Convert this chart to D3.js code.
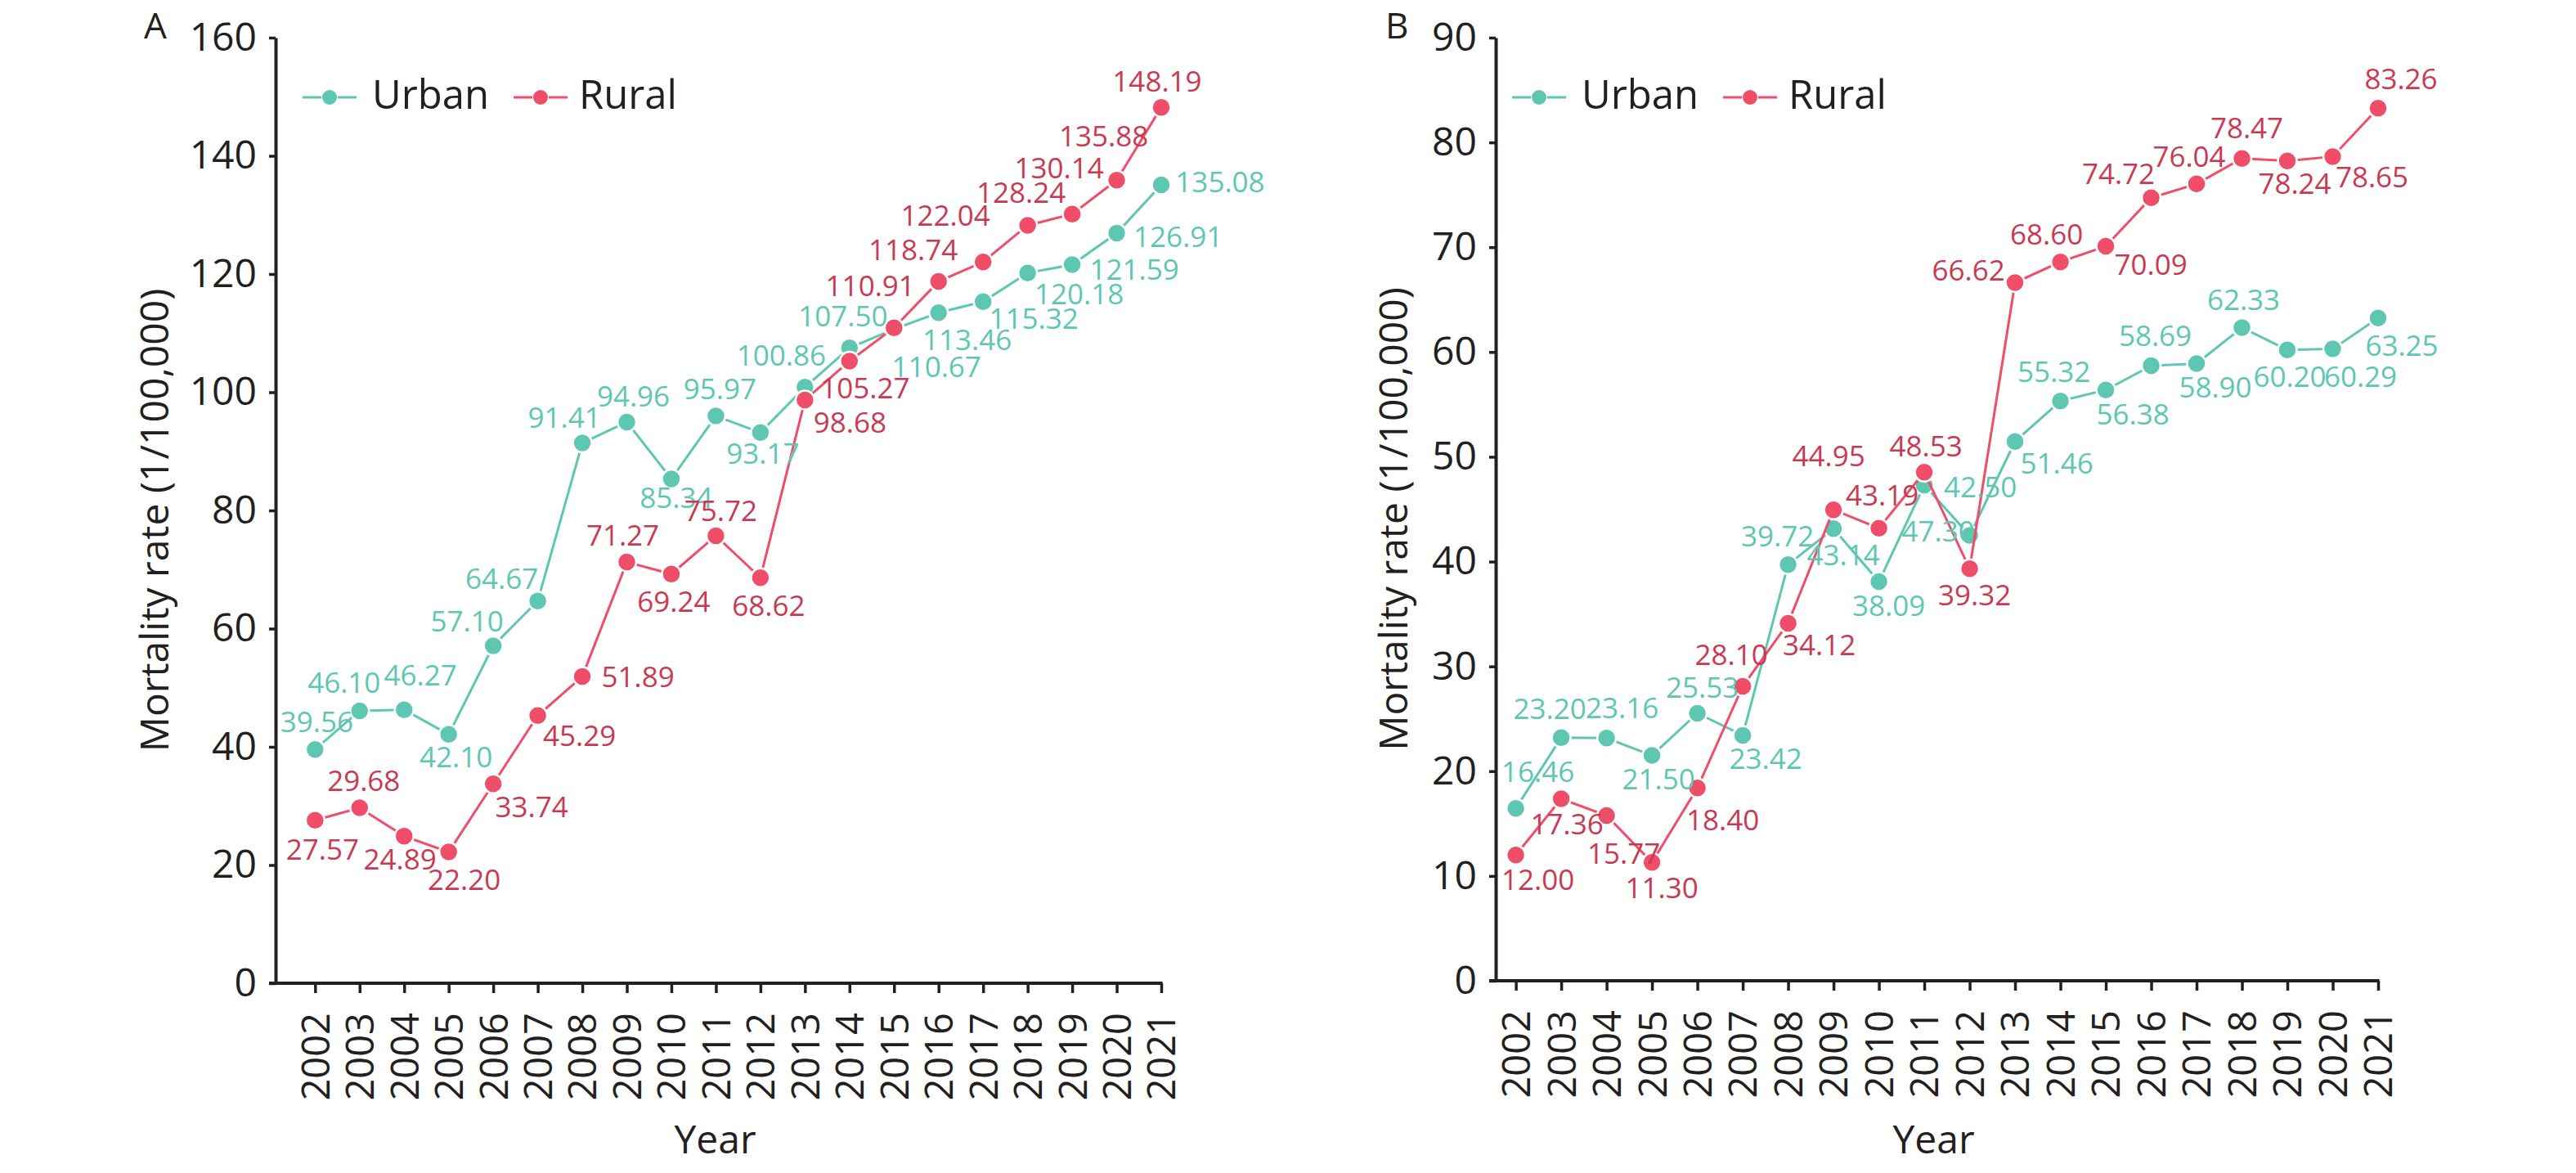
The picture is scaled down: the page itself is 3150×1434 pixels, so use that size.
<!DOCTYPE html>
<html>
<head>
<meta charset="utf-8">
<script src="https://cdn.jsdelivr.net/npm/d3@7"></script>
<style>
body { margin: 0; background: #fff; }
svg text { font-family: "Open Sans", sans-serif; }
</style>
</head>
<body>
<div class="chart"></div>
<script>
//Data
var years = [2002, 2003, 2004, 2005, 2006, 2007, 2008, 2009, 2010, 2011,
             2012, 2013, 2014, 2015, 2016, 2017, 2018, 2019, 2020, 2021];

var urbanA = [39.56, 46.10, 46.27, 42.10, 57.10, 64.67, 91.41, 94.96, 85.34, 95.97,
              93.17, 100.86, 107.50, 110.67, 113.46, 115.32, 120.18, 121.59, 126.91, 135.08];
var ruralA = [27.57, 29.68, 24.89, 22.20, 33.74, 45.29, 51.89, 71.27, 69.24, 75.72,
              68.62, 98.68, 105.27, 110.91, 118.74, 122.04, 128.24, 130.14, 135.88, 148.19];

var urbanB = [16.46, 23.20, 23.16, 21.50, 25.53, 23.42, 39.72, 43.14, 38.09, 47.30,
              42.50, 51.46, 55.32, 56.38, 58.69, 58.90, 62.33, 60.20, 60.29, 63.25];
var ruralB = [12.00, 17.36, 15.77, 11.30, 18.40, 28.10, 34.12, 44.95, 43.19, 48.53,
              39.32, 66.62, 68.60, 70.09, 74.72, 76.04, 78.47, 78.24, 78.65, 83.26];

var yTicksA = [0, 20, 40, 60, 80, 100, 120, 140, 160];
var yTicksB = [0, 10, 20, 30, 40, 50, 60, 70, 80, 90];

var seriesNames = ["Urban", "Rural"];

//Label offsets from each point (dx, dy of the text baseline centre)
var urbanOffA = [[2,-21],[-19,-22],[20,-30],[9,40],[-32,-17],[-44,-15],[-22,-19],[8,-19],[6,36],[5,-21],
                 [3,38],[-29,-26],[-8,-26],[52,59],[35,46],[62,33],[63,38],[76,18],[75,17],[72,9]];
var ruralOffA = [[9,48],[5,-21],[-5,41],[19,46],[47,41],[51,37],[68,13],[-5,-20],[3,46],[6,-18],
                 [10,47],[55,40],[19,46],[-29,-39],[-31,-26],[-46,-44],[-8,-27],[-16,-44],[-16,-41],[-5,-19]];
var urbanOffB = [[27,-32],[-14,-23],[19,-24],[8,41],[6,-19],[28,41],[-13,-22],[12,45],[12,42],[17,69],
                 [13,-47],[51,39],[-8,-23],[33,42],[5,-24],[23,42],[2,-21],[3,45],[34,46],[29,46]];
var ruralOffB = [[27,43],[7,43],[21,59],[12,44],[31,52],[-14,-26],[38,39],[-6,-53],[4,-28],[2,-19],
                 [6,45],[-57,-3],[-17,-21],[55,35],[-40,-17],[-9,-21],[6,-25],[9,40],[48,38],[28,-23]];

//Colours
var teal = "#5ec7b2";
var red = "#ef4d68";
var redText = "#c93a52";
var ink = "#231f20";

//Width and height
var w = 3150;
var h = 1434;

var svg = d3.select(".chart")
    .append("svg")
    .attr("width", w)
    .attr("height", h);

svg.append("rect").attr("width", w).attr("height", h).attr("fill", "#fff");

var panels = [
    { letter: "A", letterX: 176, axisX: 337, x0: 385.3, x1: 1420, yTop: 46, yBottom: 1202,
      ticks: yTicksA, urban: urbanA, rural: ruralA, urbanOff: urbanOffA, ruralOff: ruralOffA,
      legendX: 370, titleX: 206 },
    { letter: "B", letterX: 1694, axisX: 1829, x0: 1853.6, x1: 2908, yTop: 46, yBottom: 1199,
      ticks: yTicksB, urban: urbanB, rural: ruralB, urbanOff: urbanOffB, ruralOff: ruralOffB,
      legendX: 1849, titleX: 1721 }
];

panels.forEach(function (p) {
    var g = svg.append("g");

    var x = d3.scalePoint()
        .domain(years)
        .range([p.x0, p.x1]);

    var y = d3.scaleLinear()
        .domain([0, d3.max(p.ticks)])
        .range([p.yBottom, p.yTop]);

    //Y axis
    var yAxis = g.append("g")
        .attr("transform", "translate(" + p.axisX + ",0)")
        .call(d3.axisLeft(y)
            .tickValues(p.ticks)
            .tickSize(8)
            .tickSizeOuter(0)
            .tickPadding(15));
    yAxis.select(".domain").attr("stroke", ink).attr("stroke-width", 4);
    yAxis.selectAll(".tick line").attr("stroke", ink).attr("stroke-width", 3.5);
    yAxis.selectAll(".tick text")
        .attr("fill", ink)
        .style("font-size", "48px");

    //X axis
    var xAxis = g.append("g")
        .attr("transform", "translate(0," + p.yBottom + ")")
        .call(d3.axisBottom(x).tickSize(12));
    xAxis.select(".domain").remove();
    xAxis.selectAll(".tick line").attr("stroke", ink).attr("stroke-width", 3.5);
    xAxis.selectAll(".tick text")
        .attr("fill", ink)
        .style("font-size", "47px")
        .attr("transform", "rotate(-90)")
        .attr("text-anchor", "end")
        .attr("x", -36)
        .attr("y", 0)
        .attr("dy", "0.36em");

    g.append("line")
        .attr("x1", p.axisX - 8)
        .attr("x2", p.x1 + 1.5)
        .attr("y1", p.yBottom)
        .attr("y2", p.yBottom)
        .attr("stroke", ink)
        .attr("stroke-width", 4);

    //Axis titles
    g.append("text")
        .attr("transform", "translate(" + p.titleX + "," + ((p.yTop + p.yBottom) / 2 + 12) + ") rotate(-90)")
        .attr("text-anchor", "middle")
        .attr("fill", ink)
        .style("font-size", "48px")
        .text("Mortality rate (1/100,000)");

    g.append("text")
        .attr("x", (p.axisX - 8 + p.x1) / 2)
        .attr("y", 1410)
        .attr("text-anchor", "middle")
        .attr("fill", ink)
        .style("font-size", "48px")
        .text("Year");

    //Panel letter
    g.append("text")
        .attr("x", p.letterX)
        .attr("y", 47)
        .attr("fill", ink)
        .style("font-size", "44px")
        .text(p.letter);

    //Lines and points
    var line = d3.line()
        .x(function (d, i) { return x(years[i]); })
        .y(function (d) { return y(d); });

    var series = [
        { values: p.urban, color: teal, textColor: teal, off: p.urbanOff },
        { values: p.rural, color: red, textColor: redText, off: p.ruralOff }
    ];

    series.forEach(function (s) {
        g.append("path")
            .datum(s.values)
            .attr("d", line)
            .attr("fill", "none")
            .attr("stroke", s.color)
            .attr("stroke-width", 3);

        g.append("g")
            .selectAll("circle")
            .data(s.values)
            .join("circle")
            .attr("cx", function (d, i) { return x(years[i]); })
            .attr("cy", function (d) { return y(d); })
            .attr("r", 11.5)
            .attr("fill", s.color)
            .attr("stroke", "#fff")
            .attr("stroke-width", 2.5);
    });

    series.forEach(function (s) {
        g.append("g")
            .selectAll("text")
            .data(s.values)
            .join("text")
            .attr("x", function (d, i) { return x(years[i]) + s.off[i][0]; })
            .attr("y", function (d, i) { return y(d) + s.off[i][1]; })
            .attr("text-anchor", "middle")
            .attr("fill", s.textColor)
            .style("font-size", "35px")
            .text(function (d) { return d3.format(".2f")(d); });
    });

    //Legend
    var legend = g.append("g")
        .attr("transform", "translate(" + p.legendX + ",119)");

    var legendItems = legend.selectAll("g")
        .data(seriesNames)
        .join("g")
        .attr("transform", function (d, i) { return "translate(" + (i * 258) + ",0)"; });

    legendItems.each(function (d, i) {
        var item = d3.select(this);
        var c = series[i].color;
        item.append("line").attr("x1", 0).attr("x2", 23).attr("stroke", c).attr("stroke-width", 3);
        item.append("line").attr("x1", 43).attr("x2", 66).attr("stroke", c).attr("stroke-width", 3);
        item.append("circle").attr("cx", 33).attr("r", 9).attr("fill", c);
        item.append("text")
            .attr("x", i === 0 ? 85 : 80)
            .attr("y", 14)
            .attr("fill", ink)
            .style("font-size", "49px")
            .text(d);
    });
});
</script>
</body>
</html>
